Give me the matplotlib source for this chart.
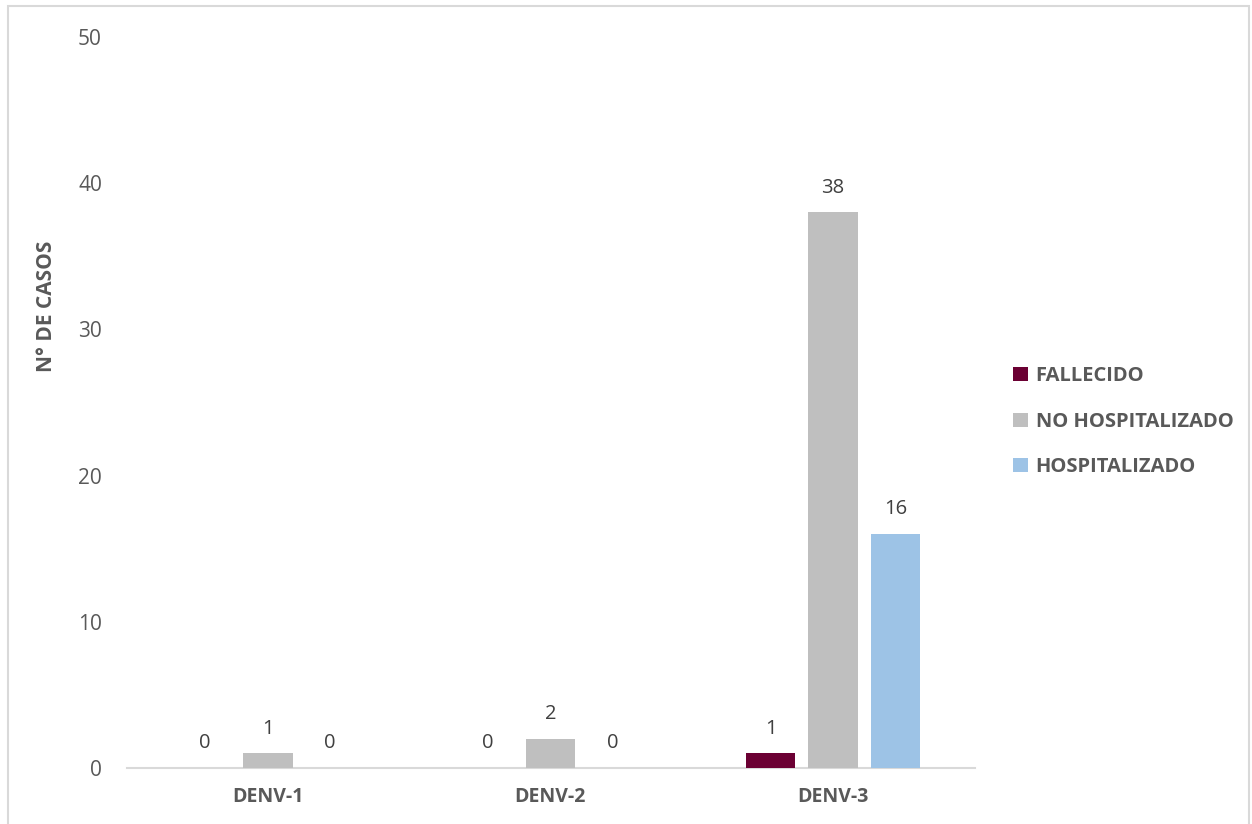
import numpy as np
import matplotlib.pyplot as plt
from matplotlib.patches import Rectangle

plt.rcParams['font.family'] = ['Open Sans', 'DejaVu Sans']

serotipos = ['DENV-1', 'DENV-2', 'DENV-3']
fallecido = [0, 0, 1]
no_hospitalizado = [1, 2, 38]
hospitalizado = [0, 0, 16]

series = [('FALLECIDO', fallecido, '#6b0033'),
          ('NO HOSPITALIZADO', no_hospitalizado, '#bfbfbf'),
          ('HOSPITALIZADO', hospitalizado, '#9dc3e6')]

fig = plt.figure(figsize=(12.52, 8.24), dpi=100)
ax = fig.add_axes([0.1014, 0.068, 0.6773, 0.887])

x = np.arange(len(serotipos))
width = 0.176
offset = 0.221
for i, (name, vals, color) in enumerate(series):
    pos = x + (i - 1) * offset
    bars = ax.bar(pos, vals, width, color=color, label=name, zorder=3)
    for p, v in zip(pos, vals):
        ax.text(p, v + 1.0, str(v), ha='center', va='bottom',
                fontsize=14.5, color='#404040')

ax.set_xlim(-0.498, 2.502)
ax.set_ylim(0, 50)
ax.set_yticks(range(0, 51, 10))
ax.set_xticks(x)
ax.set_xticklabels(serotipos, fontweight='bold', color='#595959', fontsize=14)
ax.tick_params(axis='y', length=0, pad=18, labelsize=15, labelcolor='#595959')
ax.tick_params(axis='x', length=0, pad=14)

for s in ['top', 'right', 'left']:
    ax.spines[s].set_visible(False)
ax.spines['bottom'].set_color('#d9d9d9')
ax.spines['bottom'].set_linewidth(1.5)

ax.set_ylabel('N° DE CASOS', fontweight='bold', color='#595959', fontsize=15)
ax.yaxis.set_label_coords(-0.083, 0.632)

leg = fig.legend(loc='upper left', bbox_to_anchor=(0.795, 0.578), frameon=False,
                 fontsize=14.5, handlelength=0.7, handleheight=0.7,
                 handletextpad=0.4, labelspacing=1.28)
for t in leg.get_texts():
    t.set_fontweight('bold')
    t.set_color('#595959')

# outer frame
fig.patches.append(Rectangle((0.006, -0.01), 0.992, 1.003, transform=fig.transFigure,
                             fill=False, edgecolor='#d9d9d9', linewidth=1.5))

fig.savefig('out.png', dpi=100)
